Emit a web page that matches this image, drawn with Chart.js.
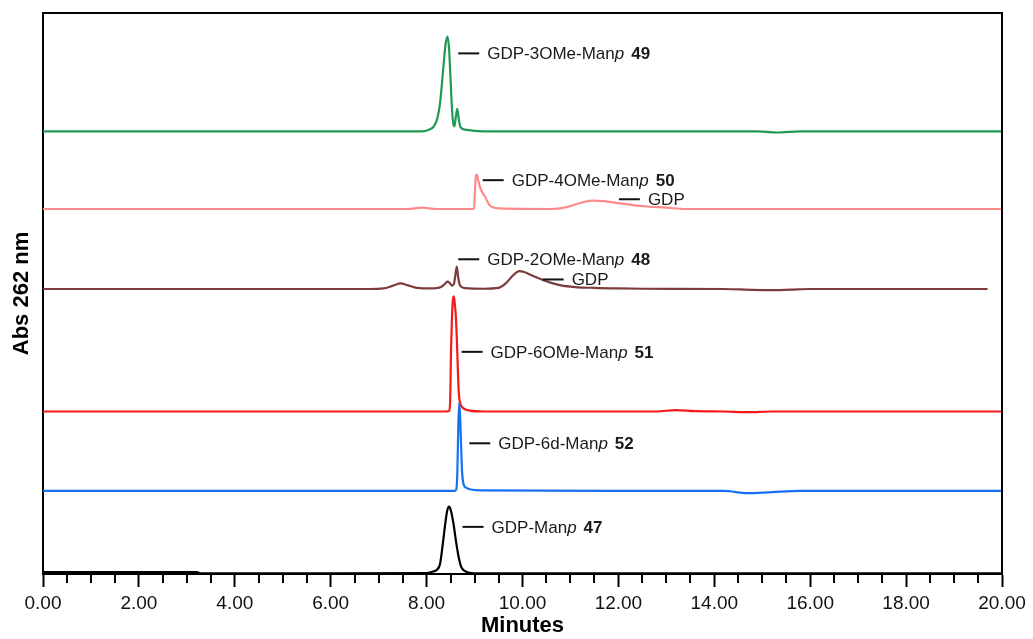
<!DOCTYPE html>
<html>
<head>
<meta charset="utf-8">
<script src="https://cdn.jsdelivr.net/npm/chart.js@4.4.1/dist/chart.umd.min.js"></script>
<style>
  html, body { margin: 0; padding: 0; background: #fff; }
  #wrap { width: 1033px; height: 639px; }
</style>
</head>
<body>
<div id="wrap"><canvas id="hplc" width="1033" height="639"></canvas></div>
<script>
// retention time (min) / absorbance above each trace's own baseline (a.u.)
const manp47Time = [0, 3.2, 3.3, 6.0, 8.0, 8.12, 8.22, 8.28, 8.34, 8.39, 8.43, 8.47, 8.51, 8.56, 8.61, 8.66, 8.72, 8.8, 8.9, 9.1, 12, 20];
const manp47Abs  = [0.35, 0.35, 0.1, 0.1, 0.15, 0.4, 0.8, 1.8, 5.5, 9.0, 11.3, 12.0, 11.2, 9.0, 6.0, 3.4, 1.3, 0.5, 0.2, 0.1, 0.1, 0.1];

const deoxy52Time = [0, 8.58, 8.62, 8.64, 8.66, 8.68, 8.7, 8.72, 8.74, 8.77, 8.82, 8.9, 9.1, 12, 14.2, 14.7, 15.2, 15.8, 20];
const deoxy52Abs  = [0, 0, 0.3, 3, 11, 15.7, 13, 8, 3.5, 1.2, 0.6, 0.3, 0.1, 0, 0, -0.4, -0.2, 0, 0];

const ome651Time = [0, 8.4, 8.47, 8.49, 8.51, 8.53, 8.55, 8.57, 8.59, 8.61, 8.63, 8.65, 8.67, 8.7, 8.74, 8.8, 8.9, 9.2, 12.8, 13.2, 13.6, 14.2, 14.7, 15.2, 20];
const ome651Abs  = [0, 0, 0.1, 1.5, 11, 17, 20, 20.5, 19, 17, 13, 8, 3.5, 1.5, 0.8, 0.4, 0.15, 0, 0, 0.25, 0.05, 0, -0.12, 0, 0];

const ome248Time = [0, 6.8, 7.1, 7.3, 7.46, 7.6, 7.8, 8.1, 8.3, 8.38, 8.43, 8.48, 8.53, 8.57, 8.6, 8.63, 8.66, 8.7, 8.8, 9.2, 9.5, 9.65, 9.8, 9.93, 10.05, 10.2, 10.4, 10.6, 10.8, 11.1, 11.5, 12.0, 12.5, 14.2, 14.8, 15.2, 15.6, 16.0, 19.7];
const ome248Abs  = [0, 0, 0.1, 0.6, 1.0, 0.7, 0.2, 0.1, 0.35, 0.9, 1.3, 1.1, 0.6, 0.9, 2.5, 4.0, 2.0, 0.6, 0.15, 0.05, 0.2, 1.0, 2.4, 3.2, 3.0, 2.4, 1.7, 1.1, 0.65, 0.35, 0.2, 0.1, 0.05, 0, -0.15, -0.2, -0.1, 0, 0];

const ome450Time = [0, 7.6, 7.9, 8.2, 8.99, 9.01, 9.03, 9.05, 9.08, 9.11, 9.16, 9.22, 9.27, 9.31, 9.38, 9.5, 10.6, 10.9, 11.1, 11.3, 11.47, 11.7, 11.95, 12.3, 12.6, 13.0, 13.4, 20];
const ome450Abs  = [0, 0, 0.25, 0, 0, 3.5, 6.0, 6.1, 5.0, 4.0, 3.0, 2.2, 1.3, 0.7, 0.3, 0.1, 0, 0.3, 0.8, 1.3, 1.5, 1.4, 1.1, 0.7, 0.45, 0.24, 0, 0];

const ome349Time = [0, 7.9, 8.05, 8.15, 8.22, 8.28, 8.32, 8.36, 8.4, 8.44, 8.47, 8.5, 8.53, 8.56, 8.58, 8.61, 8.64, 8.67, 8.71, 8.8, 9.0, 9.4, 14.9, 15.3, 15.8, 20];
const ome349Abs  = [0, 0, 0.3, 0.9, 2.2, 5.0, 8.5, 12.5, 15.8, 16.9, 14.5, 9.2, 4.0, 1.2, 0.9, 2.6, 4.0, 2.2, 0.7, 0.3, 0.1, 0, 0, -0.2, 0, 0];

// stacking: one baseline per trace, bottom to top
const traceTimes   = [manp47Time, deoxy52Time, ome651Time, ome248Time, ome450Time, ome349Time];
const traceAbs     = [manp47Abs, deoxy52Abs, ome651Abs, ome248Abs, ome450Abs, ome349Abs];
const traceOffsets = [0, 14.8, 28.97, 50.8, 65.06, 78.9];
const traceColors  = ['#000000', '#1670f5', '#f51a1a', '#7d3c3c', '#ff8a8a', '#1f9a55'];

// peak annotations: dash start (min, a.u.) and label parts
const peakLabels = [
  { x: 8.66,  y: 92.8, name: 'GDP-3OMe-Man', italic: 'p', num: '49' },
  { x: 9.17,  y: 70.2, name: 'GDP-4OMe-Man', italic: 'p', num: '50' },
  { x: 12.01, y: 66.8, name: 'GDP' },
  { x: 8.66,  y: 56.1, name: 'GDP-2OMe-Man', italic: 'p', num: '48' },
  { x: 10.42, y: 52.5, name: 'GDP' },
  { x: 8.73,  y: 39.6, name: 'GDP-6OMe-Man', italic: 'p', num: '51' },
  { x: 8.89,  y: 23.3, name: 'GDP-6d-Man', italic: 'p', num: '52' },
  { x: 8.75,  y: 8.4,  name: 'GDP-Man', italic: 'p', num: '47' }
];

const FONT = '"Liberation Sans", Arial, Helvetica, sans-serif';
Chart.defaults.font.family = FONT;
Chart.defaults.color = '#111';

const datasets = traceTimes.map((times, i) => ({
  data: times.map((t, j) => ({ x: t, y: traceAbs[i][j] + traceOffsets[i] })),
  borderColor: traceColors[i],
  borderWidth: 2.2,
  pointRadius: 0,
  cubicInterpolationMode: 'monotone',
  clip: false
}));

// frame, minor ticks and peak labels
const framePlugin = {
  id: 'frame',
  afterDatasetsDraw(chart) {
    const { ctx, chartArea: a, scales: { x, y } } = chart;
    ctx.save();
    ctx.strokeStyle = '#000';
    ctx.lineWidth = 2;
    ctx.beginPath();
    ctx.moveTo(a.left, a.top);
    ctx.lineTo(a.right, a.top);
    ctx.lineTo(a.right, a.bottom);
    ctx.stroke();

    x.ticks.forEach(t => {
      if (t.value % 2 === 0) return;
      const px = Math.round(x.getPixelForValue(t.value));
      ctx.beginPath();
      ctx.moveTo(px, a.bottom);
      ctx.lineTo(px, a.bottom + 9);
      ctx.stroke();
    });

    ctx.fillStyle = '#1a1a1a';
    ctx.textBaseline = 'alphabetic';
    peakLabels.forEach(l => {
      const px = x.getPixelForValue(l.x);
      const py = y.getPixelForValue(l.y);
      ctx.strokeStyle = '#111';
      ctx.beginPath();
      ctx.moveTo(px, py);
      ctx.lineTo(px + 21, py);
      ctx.stroke();
      let tx = px + 29;
      const base = py + 6;
      ctx.font = '17px ' + FONT;
      ctx.fillText(l.name, tx, base);
      tx += ctx.measureText(l.name).width;
      if (l.italic) {
        ctx.font = 'italic 17px ' + FONT;
        ctx.fillText(l.italic, tx, base);
        tx += ctx.measureText(l.italic).width + 7;
      }
      if (l.num) {
        ctx.font = 'bold 17px ' + FONT;
        ctx.fillText(l.num, tx, base);
      }
    });
    ctx.restore();
  }
};

new Chart(document.getElementById('hplc'), {
  type: 'line',
  data: { datasets },
  plugins: [framePlugin],
  options: {
    responsive: false,
    animation: false,
    layout: { padding: { top: 13, right: 31, left: 0, bottom: 0 } },
    plugins: { legend: { display: false }, tooltip: { enabled: false } },
    scales: {
      x: {
        type: 'linear',
        min: 0,
        max: 20,
        afterFit: s => { s.height = 65; },
        border: { display: true, color: '#000', width: 2 },
        grid: {
          drawOnChartArea: false,
          drawTicks: true,
          tickLength: 13,
          tickWidth: 2,
          tickColor: c => (c.tick && c.tick.value % 2 === 0) ? '#000' : 'rgba(0,0,0,0)'
        },
        ticks: {
          stepSize: 0.5,
          autoSkip: false,
          maxRotation: 0,
          padding: 5,
          color: '#111',
          font: { size: 19 },
          callback: v => (v % 2 === 0 ? v.toFixed(2) : '')
        },
        title: {
          display: true,
          text: 'Minutes',
          color: '#000',
          font: { size: 22, weight: 'bold' },
          padding: { top: 0, bottom: 0 }
        }
      },
      y: {
        min: 0,
        max: 100,
        afterFit: s => { s.width = 43; },
        border: { display: true, color: '#000', width: 2 },
        grid: { drawOnChartArea: false, drawTicks: false },
        ticks: { display: false },
        title: {
          display: true,
          text: 'Abs 262 nm',
          color: '#000',
          font: { size: 22, weight: 'bold' },
          padding: { top: 9, bottom: 0 }
        }
      }
    }
  }
});
</script>
</body>
</html>
